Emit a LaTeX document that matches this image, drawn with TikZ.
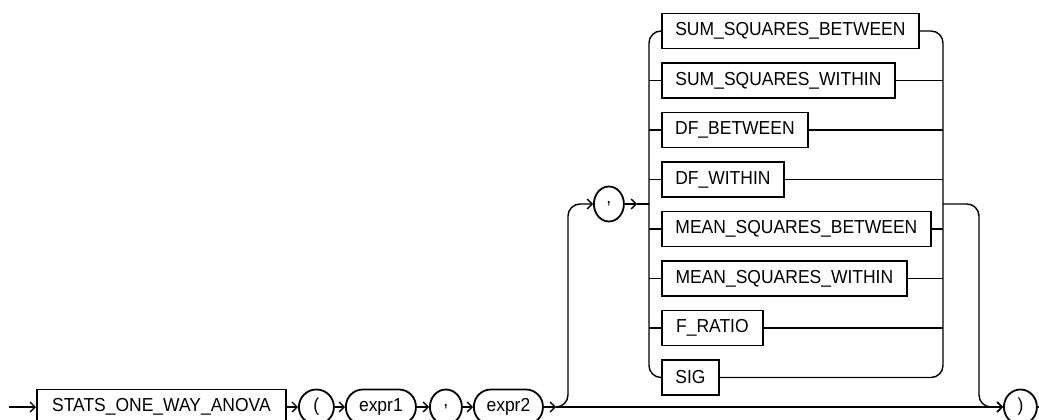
\documentclass[tikz,border=0pt]{standalone}
\usepackage{fontspec}
\setmainfont{Liberation Sans}
\newfontfamily\diafont[FakeStretch=0.93]{Liberation Sans}
\usetikzlibrary{arrows.meta,shapes.geometric}
\begin{document}
\begin{tikzpicture}[x=1pt,y=-1pt,
  txt/.style={font=\diafont\fontsize{18.8}{22}\selectfont},
  kw/.style={draw, line width=1.8pt, minimum height=35pt, inner sep=0pt, txt, anchor=west},
  rd/.style={draw, line width=1.8pt, minimum height=35pt, rounded corners=17pt, inner sep=0pt, txt, anchor=west},
  oval/.style={draw, ellipse, line width=1.8pt, minimum height=35pt, inner sep=0pt, txt, anchor=west},
  conn/.style={line width=1.4pt},
  arr/.style={conn, -{Straight Barb[length=5pt,width=10pt]}}]
\useasboundingbox (0,0) rectangle (1039,420);
% main line
\coordinate (s) at (9,407);
\node[kw, minimum width=249pt] (stats) at (36,407) {STATS\_ONE\_WAY\_ANOVA};
\node[oval, minimum width=35pt] (lp) at (298,407) {(};
\node[rd, minimum width=70pt] (e1) at (345,407) {expr1};
\node[oval, minimum width=32pt] (c1) at (429,407) {,};
\node[rd, minimum width=69pt] (e2) at (473,407) {expr2};
\node[oval, minimum width=33pt] (rp) at (1003,407) {)};
\coordinate (end) at (1039,407);
\coordinate (j1) at (556,407);
\coordinate (jb1) at (568,407);
\coordinate (jb2) at (568,204);
\node[oval, minimum width=30pt] (c2) at (593,204) {,};
\coordinate (ca) at (637,204);
\coordinate (lt) at (649,204);
\coordinate (rt) at (943,204);
\coordinate (rx1) at (979,204);
\coordinate (rx2) at (979,407);
% choice boxes
\node[kw, minimum width=257pt] (b1) at (661,31) {SUM\_SQUARES\_BETWEEN};
\node[kw, minimum width=233pt] (b2) at (661,80.5) {SUM\_SQUARES\_WITHIN};
\node[kw, minimum width=146pt] (b3) at (661,130) {DF\_BETWEEN};
\node[kw, minimum width=122pt] (b4) at (661,179.5) {DF\_WITHIN};
\node[kw, minimum width=269pt] (b5) at (661,229) {MEAN\_SQUARES\_BETWEEN};
\node[kw, minimum width=245pt] (b6) at (661,278.5) {MEAN\_SQUARES\_WITHIN};
\node[kw, minimum width=101pt] (b7) at (661,328) {F\_RATIO};
\node[kw, minimum width=57pt] (b8) at (661,377.5) {SIG};
% connectors
\draw[arr] (s) -- (stats.west);
\draw[arr] (stats.east) -- (lp.west);
\draw[arr] (lp.east) -- (e1.west);
\draw[arr] (e1.east) -- (c1.west);
\draw[arr] (c1.east) -- (e2.west);
\draw[arr] (e2.east) -- (j1);
\draw[arr] (j1) -- (rp.west);
\draw[conn] (rp.east) -- (end);
\draw[arr, rounded corners=12pt] (j1) -- (jb1) -- (jb2) -- (c2.west);
\draw[arr] (c2.east) -- (ca);
\draw[conn] (ca) -- (lt);
\draw[conn, rounded corners=12pt] (b1.west) -- (b1.west -| lt) -- (b8.west -| lt) -- (b8.west);
\draw[conn, rounded corners=12pt] (b1.east) -- (b1.east -| rt) -- (b8.east -| rt) -- (b8.east);
\foreach \b in {b2,b3,b4,b5,b6,b7}{
  \draw[conn] (\b.west) -- (\b.west -| lt);
  \draw[conn] (\b.east) -- (\b.east -| rt);
}
\draw[arr, rounded corners=12pt] (rt) -- (rx1) -- (rx2) -- (rp.west);
\end{tikzpicture}
\end{document}
